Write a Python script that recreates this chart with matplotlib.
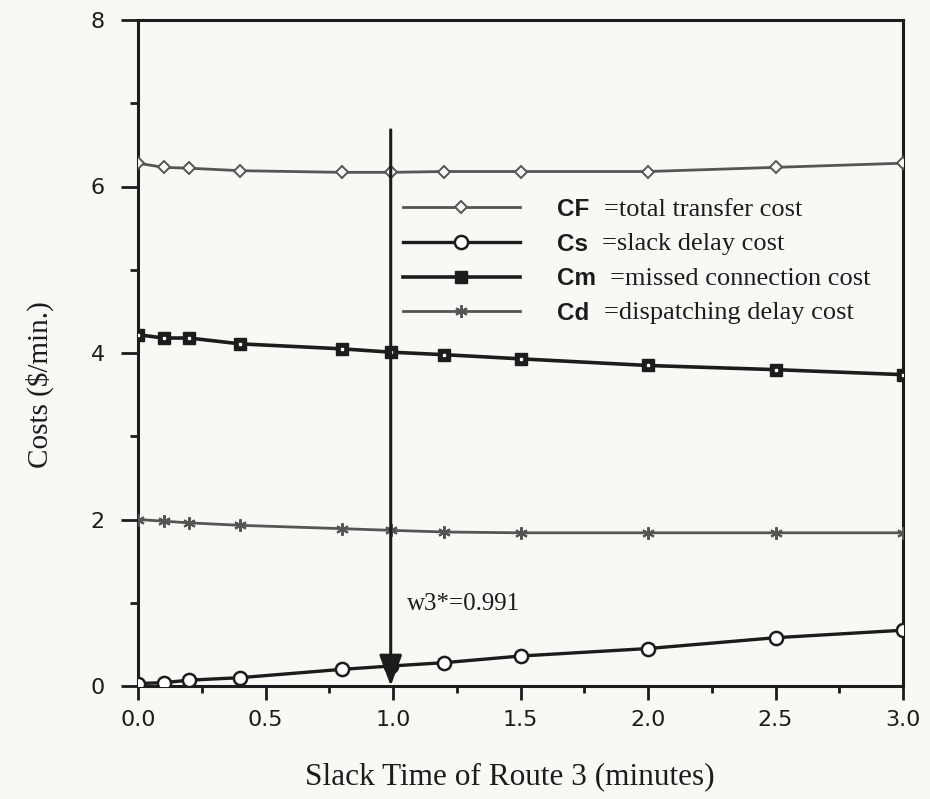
import matplotlib
matplotlib.use("Agg")
import matplotlib.pyplot as plt
from matplotlib.ticker import MultipleLocator

# Slack time of route 3 (minutes)
slack = [0.0, 0.1, 0.2, 0.4, 0.8, 0.991, 1.2, 1.5, 2.0, 2.5, 3.0]

# Cost components ($/min.)
cost_total = [6.28, 6.23, 6.22, 6.19, 6.17, 6.17, 6.18, 6.18, 6.18, 6.23, 6.28]
cost_slack = [0.03, 0.04, 0.07, 0.10, 0.20, 0.24, 0.28, 0.36, 0.45, 0.58, 0.67]
cost_missed = [4.22, 4.18, 4.18, 4.11, 4.05, 4.01, 3.98, 3.93, 3.85, 3.80, 3.74]
cost_dispatch = [2.00, 1.98, 1.96, 1.93, 1.89, 1.87, 1.85, 1.84, 1.84, 1.84, 1.84]

optimum = 0.991
optimum_label = "w3*=0.991"

series_keys = ["CF", "Cs", "Cm", "Cd"]
series_desc = ["=total transfer cost", "=slack delay cost",
               "=missed connection cost", "=dispatching delay cost"]

x_label = "Slack Time of Route 3 (minutes)"
y_label = "Costs ($/min.)"

INK = "#1c1c1c"
GREY = "#555555"
PAPER = "#f8f8f5"
SERIF = ["Liberation Serif", "DejaVu Serif"]
SANS = ["DejaVu Sans"]

fig = plt.figure(figsize=(9.30, 7.99), dpi=100, facecolor=PAPER)
ax = fig.add_axes([138 / 930, 1 - 686 / 799, 765 / 930, 666 / 799])
ax.set_facecolor(PAPER)

h_cf, = ax.plot(slack, cost_total, color=GREY, lw=2.0, marker="D", ms=6.5,
                mfc=PAPER, mec=GREY, mew=1.4, zorder=3)
h_cs, = ax.plot(slack, cost_slack, color=INK, lw=2.4, marker="o", ms=9.5,
                mfc="white", mec=INK, mew=1.8, zorder=4)
h_cm, = ax.plot(slack, cost_missed, color=INK, lw=2.6, marker="s", ms=9,
                mfc=INK, mec=INK, zorder=4)
ax.plot(slack, cost_missed, ls="none", marker="s", ms=2, mfc="white",
        mec="white", zorder=5)
h_cd, = ax.plot(slack, cost_dispatch, color=GREY, lw=2.0, marker=(6, 2, 0),
                ms=9, mec=GREY, mew=1.5, zorder=3)

# optimum slack time marker
ax.annotate("", xy=(optimum, 0.0), xytext=(optimum, 6.68),
            arrowprops=dict(arrowstyle="-|>,head_length=0.95,head_width=0.35",
                            color=INK, lw=2.2, mutation_scale=20,
                            shrinkA=0, shrinkB=0), zorder=6)
ax.text(optimum + 0.065, 0.98, optimum_label, fontsize=18, family=SERIF,
        color=INK, ha="left", va="center")

ax.set_xlim(0, 3.0)
ax.set_ylim(0, 8)
ax.xaxis.set_major_locator(MultipleLocator(0.5))
ax.xaxis.set_minor_locator(MultipleLocator(0.25))
ax.yaxis.set_major_locator(MultipleLocator(2))
ax.yaxis.set_minor_locator(MultipleLocator(1))
ax.xaxis.set_major_formatter(lambda v, p: f"{v:.1f}")
ax.yaxis.set_major_formatter(lambda v, p: f"{v:.0f}")

for s in ax.spines.values():
    s.set_linewidth(2.2)
    s.set_color(INK)
ax.tick_params(which="both", direction="out", color=INK, width=2.0,
               labelcolor=INK, labelsize=16)
ax.tick_params(axis="y", which="major", length=12)
ax.tick_params(axis="y", which="minor", length=6)
ax.tick_params(axis="x", which="major", length=10)
ax.tick_params(axis="x", which="minor", length=5)
ax.tick_params(axis="x", pad=7)
ax.tick_params(axis="y", pad=12)
for lab in ax.get_xticklabels() + ax.get_yticklabels():
    lab.set_family(SANS)

fig.text(40 / 930, 1 - 385 / 799, y_label, rotation=90, fontsize=21,
         family=SERIF, color=INK, ha="center", va="center")
fig.text(510 / 930, 1 - 777 / 799, x_label, fontsize=22.5,
         family=SERIF, color=INK, ha="center", va="center")

leg = ax.legend([h_cf, h_cs, h_cm, h_cd], series_keys, loc="upper left",
                bbox_to_anchor=(403 / 930, 1 - 198 / 799),
                bbox_transform=fig.transFigure, frameon=False,
                borderpad=0, borderaxespad=0, handlelength=4.8,
                handletextpad=1.55, labelspacing=0.48, numpoints=1,
                prop=dict(family=["Liberation Sans", "DejaVu Sans"],
                          weight="bold", size=17.5))
for t in leg.get_texts():
    t.set_color(INK)

fig.canvas.draw()
inv = fig.transFigure.inverted()
for t, desc in zip(leg.get_texts(), series_desc):
    bb = t.get_window_extent()
    x0, y0 = inv.transform((bb.x1 + 14, (bb.y0 + bb.y1) / 2))
    fig.text(x0, y0, desc, fontsize=19, family=SERIF, color=INK,
             ha="left", va="center")

fig.savefig("out.png", dpi=100, facecolor=PAPER)
